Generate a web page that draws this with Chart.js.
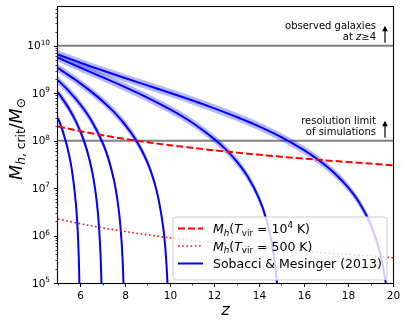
<!DOCTYPE html>
<html><head><meta charset="utf-8">
<script src="https://cdn.jsdelivr.net/npm/chart.js@4/dist/chart.umd.min.js"></script>
<style>html,body{margin:0;padding:0;background:#fff;}canvas{display:block;}</style>
</head><body>
<canvas id="c" width="407" height="327"></canvas>
<script>
// ---- data ----
// Sobacci & Mesinger (2013) curves, one per ionization redshift (6,7,8,10,15,20)
const zA = [5.0,5.1,5.2,5.3,5.4,5.5,5.6,5.7,5.8,5.85,5.9,5.95,5.98];
const mA = [3.0e8,2.25e8,1.65e8,1.16e8,7.8e7,4.9e7,2.8e7,1.3e7,4.7e6,2.3e6,8.3e5,1.5e5,1.5e4];
const zB = [5.0,5.25,5.5,5.75,6.0,6.1,6.3,6.5,6.6,6.7,6.8,6.9,6.95,6.98];
const mB = [1.04e9,7.1e8,4.66e8,2.85e8,1.57e8,1.19e8,6.2e7,2.6e7,1.48e7,7.1e6,2.55e6,4.4e5,8e4,8e3];
const zC = [5.0,5.5,6.0,6.5,7.0,7.25,7.5,7.6,7.7,7.8,7.9,7.95,7.98];
const mC = [1.88e9,1.10e9,5.8e8,2.64e8,9.0e7,4.3e7,1.51e7,8.6e6,4.1e6,1.49e6,2.6e5,4.6e4,4.6e3];
const zD = [5,5.5,6,6.5,7,7.5,8,8.5,9,9.3,9.5,9.7,9.8,9.9,9.95,9.98];
const mD = [3.39e9,2.36e9,1.62e9,1.07e9,6.81e8,4.06e8,2.19e8,1.02e8,3.52e7,1.40e7,5.9e6,1.63e6,5.9e5,1.03e5,1.8e4,1.8e3];
const zE = [5,6,7,8,9,10,11,12,12.5,13,13.5,14,14.3,14.5,14.7,14.8,14.9,14.95];
const mE = [5.61e9,3.48e9,2.18e9,1.35e9,8.12e8,4.62e8,2.42e8,1.08e8,6.65e7,3.67e7,1.73e7,6.1e6,2.45e6,1.05e6,2.9e5,1.04e5,1.8e4,3.2e3];
const zF = [5,6,7,8,9,10,11,12,13,14,15,16,16.5,17,17.5,18,18.5,19,19.3,19.5,19.7,19.8,19.9];
const mF = [6.62e9,4.41e9,3.02e9,2.10e9,1.47e9,1.03e9,7.11e8,4.81e8,3.17e8,2.01e8,1.19e8,6.4e7,4.46e7,2.96e7,1.83e7,1.02e7,4.86e6,1.72e6,6.97e5,2.99e5,8.3e4,3.0e4,5.3e3];
const bandFactor = 1.22; // width of the shaded uncertainty band (multiplicative)

// Virial-temperature thresholds
const zRed = [5,6,7,8,9,10,11,12,13,14,15,16,17,18,19,20];
const mT1e4 = [2.0e8,1.59e8,1.30e8,1.09e8,9.3e7,8.06e7,7.07e7,6.27e7,5.61e7,5.06e7,4.59e7,4.19e7,3.85e7,3.55e7,3.29e7,3.05e7];
const mT500 = [2.24e6,1.78e6,1.45e6,1.22e6,1.04e6,9.0e5,7.9e5,7.0e5,6.3e5,5.7e5,5.1e5,4.7e5,4.3e5,4.0e5,3.7e5,3.4e5];

// horizontal reference levels
const refLevels = [1e8, 1e10];
const refZ = [5, 20];

// axes
const xMin = 5, xMax = 20;
const yMin = 1e5, yMax = 6.6e10;
const xMajorTicks = [6,8,10,12,14,16,18,20];
const xMinorTicks = [5,7,9,11,13,15,17,19];
const yMajorExp = [5,6,7,8,9,10];

// ---- chart ----
const FONT = '"DejaVu Sans", sans-serif';
const BLUE = '#0000ff', BAND = 'rgba(0,0,255,0.28)', RED = '#ff0000';

function pts(zs, ms, f) { return zs.map((z,i)=>({x:z, y: ms[i]*(f||1)})); }

const datasets = [];
refLevels.forEach(v => datasets.push({
  data: refZ.map(z=>({x:z,y:v})), borderColor:'#808080', borderWidth:2, order:5, fill:false
}));
const curves = [[zA,mA],[zB,mB],[zC,mC],[zD,mD],[zE,mE],[zF,mF]];
curves.forEach(([zs,ms]) => {
  datasets.push({data: pts(zs,ms,bandFactor), borderColor:'rgba(0,0,0,0)', borderWidth:1,
    backgroundColor:BAND, fill:'+1', order:3});
  datasets.push({data: pts(zs,ms,1/bandFactor), borderColor:'rgba(0,0,0,0)', borderWidth:1,
    fill:false, order:3});
});
curves.forEach(([zs,ms]) => {
  datasets.push({data: pts(zs,ms), borderColor:BLUE, borderWidth:2, fill:false, order:1});
});
datasets.push({data: pts(zRed,mT1e4), borderColor:RED, borderWidth:2, borderDash:[7,3], fill:false, order:0});
datasets.push({data: pts(zRed,mT500), borderColor:RED, borderWidth:1.6, borderDash:[1.6,2.6], fill:false, order:0});

function mathLayout(ctx, parts, size) {
  let w = 0; const items = [];
  for (const p of parts) {
    const s = (p.sub || p.sup) ? size*0.7 : size;
    const font = (p.it ? 'italic ' : '') + s + 'px ' + FONT;
    ctx.font = font;
    const dy = p.sub ? size*0.22 : (p.sup ? -size*0.42 : 0);
    const tw = ctx.measureText(p.t).width;
    items.push({t:p.t, font, x:w, dy});
    w += tw + (p.kern || 0);
  }
  return {items, w};
}
function drawMath(ctx, parts, x, y, size, align) {
  const L = mathLayout(ctx, parts, size);
  const x0 = align === 'right' ? x - L.w : (align === 'center' ? x - L.w/2 : x);
  ctx.textAlign = 'left'; ctx.textBaseline = 'alphabetic';
  for (const it of L.items) { ctx.font = it.font; ctx.fillText(it.t, x0 + it.x, y + it.dy); }
  return L.w;
}

const decor = {
  id: 'decor',
  afterDatasetsDraw(chart) {
    const ctx = chart.ctx, xs = chart.scales.x, ys = chart.scales.y;
    // annotations
    ctx.save();
    ctx.fillStyle = '#000'; ctx.strokeStyle = '#000';
    const tx = 376, ax = 385;
    const notes = [
      {lvl:1e10, l1:[{t:'observed galaxies'}], l2:[{t:'at '},{t:'z',it:true},{t:'\u2265'},{t:'4'}]},
      {lvl:1e8, l1:[{t:'resolution limit'}], l2:[{t:'of simulations'}]}
    ];
    notes.forEach(n => {
      const y = ys.getPixelForValue(n.lvl);
      drawMath(ctx, n.l1, tx, y-17, 10, 'right');
      drawMath(ctx, n.l2, tx, y-6, 10, 'right');
      ctx.lineWidth = 1.2;
      ctx.beginPath(); ctx.moveTo(ax, y-3); ctx.lineTo(ax, y-16); ctx.stroke();
      ctx.beginPath(); ctx.moveTo(ax, y-20); ctx.lineTo(ax-2.8, y-14.5); ctx.lineTo(ax+2.8, y-14.5); ctx.closePath(); ctx.fill();
    });
    // legend
    const bx = 173, by = 217, bw = 214, bh = 63, r = 3;
    ctx.beginPath();
    ctx.moveTo(bx+r, by); ctx.lineTo(bx+bw-r, by); ctx.arcTo(bx+bw, by, bx+bw, by+r, r);
    ctx.lineTo(bx+bw, by+bh-r); ctx.arcTo(bx+bw, by+bh, bx+bw-r, by+bh, r);
    ctx.lineTo(bx+r, by+bh); ctx.arcTo(bx, by+bh, bx, by+bh-r, r);
    ctx.lineTo(bx, by+r); ctx.arcTo(bx, by, bx+r, by, r); ctx.closePath();
    ctx.fillStyle = 'rgba(255,255,255,0.8)'; ctx.fill();
    ctx.strokeStyle = '#cccccc'; ctx.lineWidth = 1; ctx.stroke();
    const rows = [
      {y:228.5, color:RED, w:2, dash:[7,3], parts:[{t:'M',it:true},{t:'h',it:true,sub:true},{t:'('},{t:'T',it:true},{t:'vir',sub:true},{t:' = 10'},{t:'4',sup:true},{t:' K)'}]},
      {y:246, color:RED, w:1.6, dash:[1.6,2.6], parts:[{t:'M',it:true},{t:'h',it:true,sub:true},{t:'('},{t:'T',it:true},{t:'vir',sub:true},{t:' = 500 K)'}]},
      {y:263.5, color:BLUE, w:2, dash:[], parts:[{t:'Sobacci & Mesinger (2013)'}]}
    ];
    rows.forEach(rw => {
      ctx.strokeStyle = rw.color; ctx.lineWidth = rw.w; ctx.setLineDash(rw.dash);
      ctx.beginPath(); ctx.moveTo(178, rw.y); ctx.lineTo(203, rw.y); ctx.stroke();
      ctx.setLineDash([]);
      ctx.fillStyle = '#000';
      drawMath(ctx, rw.parts, 213, rw.y + 4.5, 12.5, 'left');
    });
    ctx.restore();
  },
  afterDraw(chart) {
    const ctx = chart.ctx, xs = chart.scales.x, ys = chart.scales.y, a = chart.chartArea;
    ctx.save();
    ctx.strokeStyle = '#000'; ctx.fillStyle = '#000';
    // spines
    ctx.lineWidth = 1.1;
    ctx.strokeRect(Math.round(a.left)-0.5, Math.round(a.top)-0.5, Math.round(a.right-a.left)+1, Math.round(a.bottom-a.top)+1);
    // x ticks
    xMajorTicks.forEach(v => {
      const x = Math.round(xs.getPixelForValue(v)) + 0.5;
      ctx.lineWidth = 1; ctx.beginPath(); ctx.moveTo(x, a.bottom); ctx.lineTo(x, a.bottom+4); ctx.stroke();
      drawMath(ctx, [{t:String(v)}], x, a.bottom+16, 10.5, 'center');
    });
    xMinorTicks.forEach(v => {
      const x = Math.round(xs.getPixelForValue(v)) + 0.5;
      ctx.lineWidth = 0.8; ctx.beginPath(); ctx.moveTo(x, a.bottom); ctx.lineTo(x, a.bottom+2.5); ctx.stroke();
    });
    // y ticks
    for (let e = 5; e <= 10; e++) {
      for (let d = 1; d <= 9; d++) {
        const v = d * Math.pow(10, e);
        if (v > yMax * 1.0001) break;
        const y = Math.round(ys.getPixelForValue(v)) + 0.5;
        ctx.lineWidth = d === 1 ? 1 : 0.8;
        ctx.beginPath(); ctx.moveTo(a.left, y); ctx.lineTo(a.left - (d === 1 ? 4 : 2.5), y); ctx.stroke();
      }
    }
    yMajorExp.forEach(e => {
      const y = ys.getPixelForValue(Math.pow(10, e));
      drawMath(ctx, [{t:'10'},{t:String(e),sup:true}], a.left-8, y+3.6, 10.5, 'right');
    });
    // axis labels
    drawMath(ctx, [{t:'z',it:true}], (a.left+a.right)/2, 315, 16, 'center');
    ctx.translate(21.5, 139);
    ctx.rotate(-Math.PI/2);
    drawMath(ctx, [{t:'M',it:true},{t:'h',it:true,sub:true},{t:', crit',sub:true},{t:'/'},{t:'M',it:true},{t:'\u2299',sub:true}], 0, 0, 17.5, 'center');
    ctx.restore();
  }
};

new Chart(document.getElementById('c'), {
  type: 'line',
  data: { datasets },
  options: {
    responsive: false, animation: false, devicePixelRatio: 1,
    layout: { padding: { left: 58, top: 7, right: 14, bottom: 44 } },
    plugins: { legend: { display: false }, tooltip: { enabled: false } },
    elements: { point: { radius: 0 }, line: { cubicInterpolationMode: 'monotone' } },
    scales: {
      x: { type: 'linear', min: xMin, max: xMax, display: false },
      y: { type: 'logarithmic', min: yMin, max: yMax, display: false }
    }
  },
  plugins: [decor]
});
</script>
</body></html>
